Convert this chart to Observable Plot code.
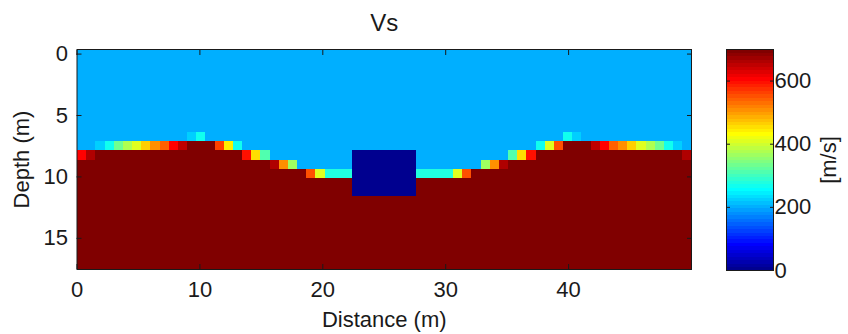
<!DOCTYPE html>
<html>
<head>
<meta charset="utf-8">
<script src="https://cdn.jsdelivr.net/npm/d3@7"></script>
<script src="https://cdn.jsdelivr.net/npm/@observablehq/plot@0.6"></script>
<style>
  html, body { margin: 0; padding: 0; background: white; }
  #wrap { position: relative; width: 848px; height: 334px; }
  #wrap svg { position: absolute; left: 0; top: 0; }
</style>
</head>
<body>
<div id="wrap"></div>
<script>
// ---------- data ----------
const nCols = 67;             // grid columns (distance)
const nRows = 24;             // grid rows (depth)
const distanceSpan = [0, 50]; // m
const xTicks = [0, 10, 20, 30, 40];
const yTicks = [0, 5, 10, 15];
const cbTicks = [0, 200, 400, 600];
const vsRange = [0, 700];     // colour limits (m/s)

const vsLayer = 205;      // upper layer
const vsHalfspace = 700;  // lower half-space
const vsBlock = 5;        // embedded block

// first row of pure half-space in each column
const halfspaceTop = [
  12, 12,
  11, 11, 11, 11, 11, 11, 11, 11, 11, 11,
  10, 10, 10,
  11, 11, 11,
  12, 12, 12,
  13, 13, 13,
  13,
  14, 14, 14, 14, 14,
  14, 14, 14, 14, 14, 14, 14,
  14, 14, 14, 14, 14, 14,
  13,
  13, 13, 13,
  12, 12, 12,
  11, 11, 11,
  10, 10, 10,
  11, 11, 11, 11, 11, 11, 11, 11, 11, 11,
  12
];

// transition cells along the interface: [column, row, Vs]
const transitionCells = [
  [0, 11, 602], [1, 11, 667],
  [2, 10, 222], [3, 10, 273], [4, 10, 329], [5, 10, 372], [6, 10, 405],
  [7, 10, 469], [8, 10, 514], [9, 10, 546], [10, 10, 602], [11, 10, 656],
  [12, 9, 222], [13, 9, 265],
  [15, 10, 560], [16, 10, 445], [17, 10, 270],
  [18, 11, 600], [19, 11, 458], [20, 11, 308],
  [21, 12, 660], [22, 12, 505], [23, 12, 362],
  [25, 13, 556], [26, 13, 405], [27, 13, 283], [28, 13, 283], [29, 13, 283],
  [37, 13, 283], [38, 13, 283], [39, 13, 283], [40, 13, 283], [41, 13, 405], [42, 13, 556],
  [44, 12, 362], [45, 12, 505], [46, 12, 660],
  [47, 11, 308], [48, 11, 458], [49, 11, 600],
  [50, 10, 270], [51, 10, 405], [52, 10, 556],
  [53, 9, 265], [54, 9, 222],
  [56, 10, 656], [57, 10, 602], [58, 10, 546], [59, 10, 514], [60, 10, 469],
  [61, 10, 405], [62, 10, 372], [63, 10, 329], [64, 10, 273], [65, 10, 222],
  [66, 11, 660]
];

const blockCols = [30, 36];
const blockRows = [11, 15];

// ---------- build grid (row-major) ----------
const cell = (distanceSpan[1] - distanceSpan[0]) / nCols;
const depthSpan = [-cell / 2, nRows * cell - cell / 2];
const grid = [];
for (let r = 0; r < nRows; ++r)
  for (let c = 0; c < nCols; ++c)
    grid.push(r >= halfspaceTop[c] ? vsHalfspace : vsLayer);
for (const [c, r, v] of transitionCells) grid[r * nCols + c] = v;
for (let r = blockRows[0]; r <= blockRows[1]; ++r)
  for (let c = blockCols[0]; c <= blockCols[1]; ++c)
    grid[r * nCols + c] = vsBlock;

// ---------- MATLAB jet(64) ----------
const u = [];
for (let k = 1; k <= 16; ++k) u.push(k / 16);
for (let k = 0; k < 15; ++k) u.push(1);
for (let k = 16; k >= 1; --k) u.push(k / 16);
const at = (k) => (k >= 1 && k <= u.length ? u[k - 1] : 0);
const jet = [];
for (let i = 1; i <= 64; ++i) {
  const R = at(i - 24), G = at(i - 8), B = at(i + 8);
  jet.push(`rgb(${Math.round(R * 255)},${Math.round(G * 255)},${Math.round(B * 255)})`);
}
const jetInterp = (t) => jet[Math.max(0, Math.min(63, Math.floor(t * 64)))];
const colorOpts = {type: "linear", domain: vsRange, interpolate: jetInterp};

const font = "'Liberation Sans', Arial, sans-serif";
const ink = "#1a1a1a";

// ---------- main image ----------
const main = Plot.plot({
  width: 848, height: 334,
  marginLeft: 76.5, marginRight: 157, marginTop: 49, marginBottom: 65,
  x: {domain: distanceSpan},
  y: {domain: depthSpan, reverse: true},
  color: colorOpts,
  style: {fontFamily: font, fontSize: "22px", color: ink, background: "white"},
  marks: [
    Plot.raster(grid, {
      width: nCols, height: nRows,
      x1: distanceSpan[0], x2: distanceSpan[1], y1: depthSpan[0], y2: depthSpan[1],
      fill: (d) => d, imageRendering: "pixelated"
    }),
    Plot.axisX(xTicks, {anchor: "bottom", tickSize: -5, tickPadding: 17, label: "Distance (m)",
      labelAnchor: "center", labelArrow: "none", labelOffset: 57, stroke: ink}),
    Plot.axisX(xTicks, {anchor: "top", tickSize: -5, tickFormat: () => "", label: null, stroke: ink}),
    Plot.axisY(yTicks, {anchor: "left", tickSize: -5, tickPadding: 14, label: "Depth (m)",
      labelAnchor: "center", labelArrow: "none", labelOffset: 64, stroke: ink}),
    Plot.axisY(yTicks, {anchor: "right", tickSize: -5, tickFormat: () => "", label: null, stroke: ink}),
    Plot.frame({stroke: ink}),
    Plot.text(["Vs"], {frameAnchor: "top", dy: -36, fontSize: 24, fill: ink})
  ]
});

// ---------- colour bar ----------
const bar = Plot.plot({
  width: 848, height: 334,
  marginLeft: 726, marginRight: 75, marginTop: 49, marginBottom: 64,
  x: {domain: [0, 1], axis: null},
  y: {domain: vsRange},
  color: colorOpts,
  style: {fontFamily: font, fontSize: "22px", color: ink, background: "transparent"},
  marks: [
    Plot.raster({fill: (x, y) => y, x1: 0, x2: 1, y1: vsRange[0], y2: vsRange[1],
      width: 1, height: 64, imageRendering: "pixelated"}),
    Plot.axisY(cbTicks, {anchor: "right", tickSize: -4, tickPadding: 5, label: "[m/s]",
      labelAnchor: "center", labelArrow: "none", labelOffset: 62, stroke: ink}),
    Plot.axisY(cbTicks, {anchor: "left", tickSize: -4, tickFormat: () => "", label: null, stroke: ink}),
    Plot.frame({stroke: ink})
  ]
});

document.getElementById("wrap").append(main, bar);
</script>
</body>
</html>
